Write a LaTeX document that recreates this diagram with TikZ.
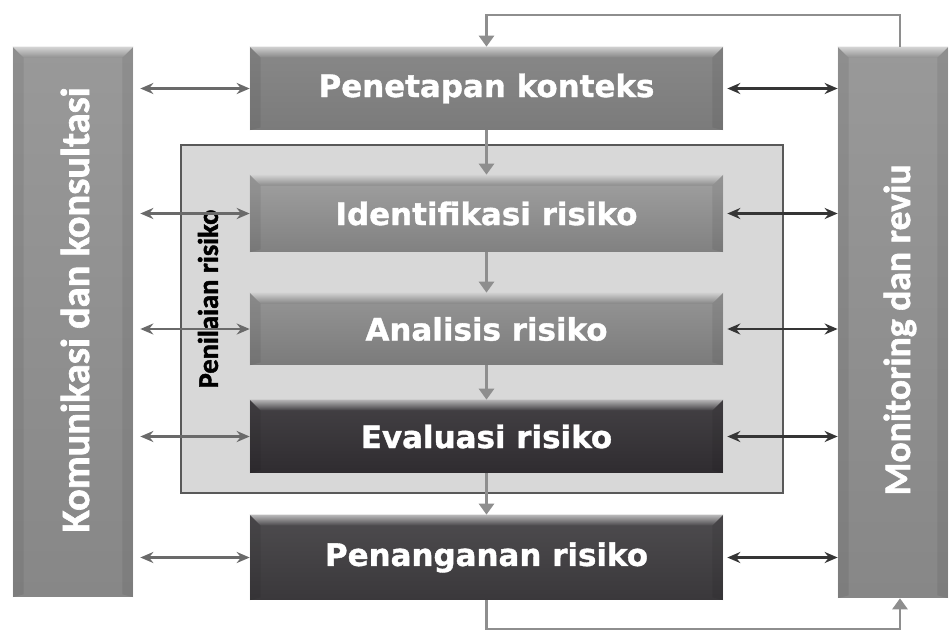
\documentclass[tikz,border=0pt]{standalone}
\usepackage{fontspec}
\setmainfont{DejaVu Sans}[BoldFont={DejaVu Sans Bold}, BoldFeatures={FakeBold=1.2}]
\newfontfamily\sidefont{Carlito}[BoldFont={Carlito Bold}, BoldFeatures={FakeBold=1.6}]
\usetikzlibrary{arrows.meta}

\definecolor{boxgray}{HTML}{7B7B7B}
\definecolor{boxlight}{HTML}{818181}
\definecolor{boxdark}{HTML}{2F2C30}
\definecolor{boxdark2}{HTML}{3A383B}
\definecolor{sidegray}{HTML}{878787}
\definecolor{panel}{HTML}{D8D8D8}
\definecolor{flowgray}{HTML}{8E8E8E}
\definecolor{linkgray}{HTML}{6A6A6A}
\definecolor{linkdark}{HTML}{353535}

\tikzset{
  stage/.style={minimum width=9.46cm, inner sep=0pt, text=white,
    font=\bfseries\fontsize{17.6}{20}\selectfont},
  sidebox/.style={inner sep=0pt},
  sidetext/.style={text=white, inner sep=0pt, rotate=90},
  linkL/.style={draw=linkgray, line width=1.5pt,
    {Stealth[length=0.26cm,width=0.22cm]}-{Stealth[length=0.26cm,width=0.22cm]}},
  linkR/.style={draw=linkdark, line width=1.5pt,
    {Stealth[length=0.26cm,width=0.22cm]}-{Stealth[length=0.26cm,width=0.22cm]}},
  flow/.style={draw=flowgray, line width=1.7pt, -{Triangle[length=0.22cm,width=0.3cm]}}
}

\begin{document}
\begin{tikzpicture}[x=0.02cm,y=-0.02cm]
\useasboundingbox (0,0) rectangle (951,632);

\node[draw=black!65, line width=1pt, fill=panel, minimum width=12.04cm, minimum height=6.96cm] (nil) at (482,319) {};
\node[font=\sidefont\bfseries\fontsize{16.2}{18}\selectfont, rotate=90, inner sep=0pt] (niltxt) at (208,299) {Penilaian risiko};

\node[sidebox, top color=sidegray!85!white, bottom color=sidegray, minimum width=2.4cm, minimum height=11cm] (kom) at (73,322) {};
\node[sidebox, top color=sidegray!85!white, bottom color=sidegray, minimum width=2.2cm, minimum height=11.02cm] (mon) at (893,322.5) {};
\node[sidetext, font=\sidefont\bfseries\fontsize{23}{26}\selectfont] (komtxt) at (75,310) {Komunikasi dan konsultasi};
\node[sidetext, font=\sidefont\bfseries\fontsize{21.4}{24}\selectfont] (montxt) at (900,330) {Monitoring dan reviu};

\node[stage, top color=boxgray!90!white, bottom color=boxgray, minimum height=1.66cm] (pen) at (486.5,88.5) {Penetapan konteks};
\node[stage, top color=boxlight!75!white, bottom color=boxlight, minimum height=1.54cm] (idf) at (486.5,213.5) {Identifikasi risiko};
\node[stage, top color=boxgray!80!white, bottom color=boxgray, minimum height=1.44cm] (ana) at (486.5,329) {Analisis risiko};
\node[stage, top color=boxdark!90!white, bottom color=boxdark, minimum height=1.46cm] (eva) at (486.5,436.5) {Evaluasi risiko};
\node[stage, top color=boxdark2!90!white, bottom color=boxdark2, minimum height=1.7cm] (pnn) at (486.5,557.5) {Penanganan risiko};

\foreach \b/\c in {pen/boxgray,idf/boxlight,ana/boxgray,eva/boxdark,pnn/boxdark2,kom/sidegray,mon/sidegray}{
  \shade[top color=\c!35!white, bottom color=\c!92!white] (\b.north west) -- (\b.north east)
    -- ([xshift=-0.22cm,yshift=-0.22cm]\b.north east) -- ([xshift=0.22cm,yshift=-0.22cm]\b.north west) -- cycle;
  \fill[black, opacity=.07] (\b.north west) -- ([xshift=0.22cm,yshift=-0.22cm]\b.north west)
    -- ([xshift=0.22cm,yshift=0.06cm]\b.south west) -- (\b.south west) -- cycle;
  \fill[black, opacity=.07] (\b.north east) -- ([xshift=-0.22cm,yshift=-0.22cm]\b.north east)
    -- ([xshift=-0.22cm,yshift=0.06cm]\b.south east) -- (\b.south east) -- cycle;
}

\foreach \a/\b in {pen/idf,idf/ana,ana/eva,eva/pnn}
  \draw[flow] (\a.south) -- (\b.north);

\foreach \b in {pen,idf,ana,eva,pnn}{
  \draw[linkL, shorten <=0.14cm] (kom.east |- \b.west) -- (\b.west);
  \draw[linkR, shorten <=0.08cm] (\b.east) -- (mon.west |- \b.east);
}

\coordinate (fbtop) at (900,15);
\coordinate (fbbot) at (900,629);
\draw[flow] (fbtop |- mon.north) -- (fbtop) -| (pen.north);
\draw[flow] (pnn.south) |- (fbbot) -- (fbtop |- mon.south);
\end{tikzpicture}
\end{document}
